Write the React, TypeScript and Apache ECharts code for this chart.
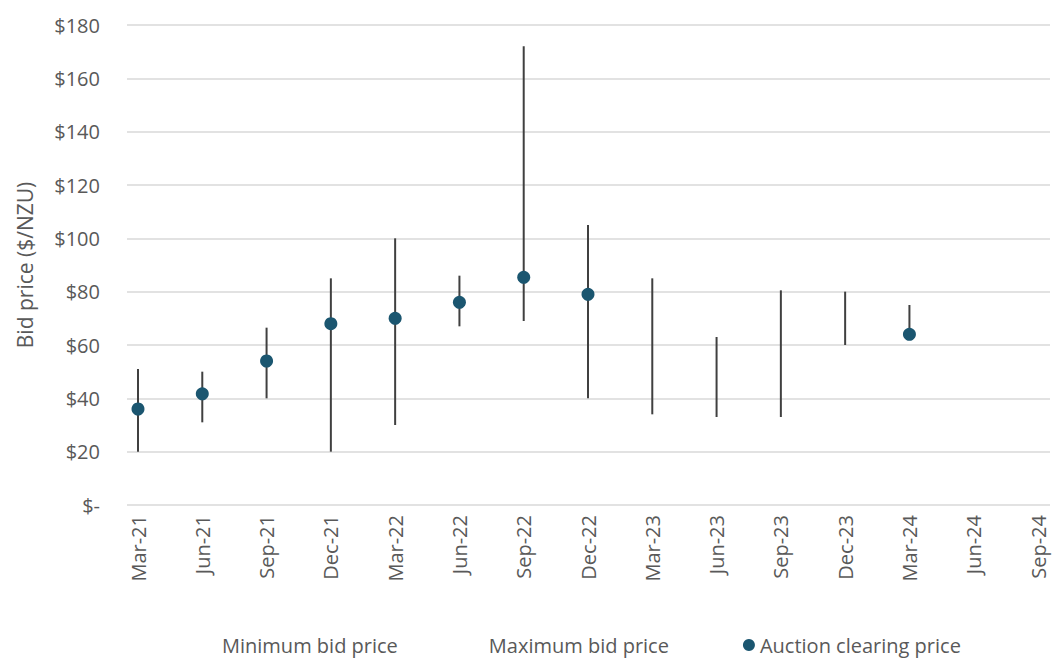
import React, { useEffect, useRef } from "react";
import * as echarts from "echarts";

const categories = ["Mar-21", "Jun-21", "Sep-21", "Dec-21", "Mar-22", "Jun-22", "Sep-22", "Dec-22", "Mar-23", "Jun-23", "Sep-23", "Dec-23", "Mar-24", "Jun-24", "Sep-24"];
const minBid = [20, 31, 40, 20, 30, 67, 69, 40, 34, 33, 33, 60, 64, null, null];
const maxBid = [51, 50, 66.5, 85, 100, 86, 172, 105, 85, 63, 80.5, 80, 75, null, null];
const clearing = [36, 41.7, 54, 68, 70, 76, 85.4, 79, null, null, null, null, 64, null, null];
const yTicks = [0, 20, 40, 60, 80, 100, 120, 140, 160, 180];

const FONT = "'Open Sans', sans-serif";
const TEXT = "#595959";

export default function App() {
  const ref = useRef<HTMLDivElement>(null);
  useEffect(() => {
    document.body.style.margin = "0";
    if (!ref.current) return;
    const chart = echarts.init(ref.current, undefined, { renderer: "svg" });
    const rangeData = categories.map((c, i) => [i, minBid[i], maxBid[i]]).filter((d) => d[1] != null && d[2] != null);
    chart.setOption({
      animation: false,
      textStyle: { fontFamily: FONT, color: TEXT },
      grid: [
        { left: 127, right: 2, top: 25, bottom: 156 },
        { left: 138, right: 14, top: 25, bottom: 156 },
      ],
      xAxis: [
        { gridIndex: 0, type: "value", min: 0, max: 1, show: false },
        {
          gridIndex: 1,
          type: "category",
          data: categories,
          boundaryGap: false,
          axisLine: { show: false },
          axisTick: { show: false },
          axisLabel: { rotate: 90, margin: 10, fontSize: 20, color: TEXT, fontFamily: FONT },
        },
      ],
      yAxis: [
        {
          gridIndex: 0,
          type: "value",
          min: yTicks[0],
          max: yTicks[yTicks.length - 1],
          interval: 20,
          name: "Bid price ($/NZU)",
          nameLocation: "middle",
          nameGap: 92,
          nameTextStyle: { fontSize: 21, color: TEXT, fontFamily: FONT },
          axisLine: { show: false },
          axisTick: { show: false },
          axisLabel: {
            fontSize: 20,
            margin: 27,
            color: TEXT,
            fontFamily: FONT,
            formatter: (v: number) => (v === 0 ? "$-" : "$" + v),
          },
          splitLine: { lineStyle: { color: "#d9d9d9", width: 1.5 } },
        },
        { gridIndex: 1, type: "value", min: 0, max: 180, show: false, splitLine: { show: false } },
      ],
      legend: {
        left: 200,
        top: 630,
        itemGap: 74,
        itemWidth: 12,
        itemHeight: 12,
        textStyle: { fontSize: 20, color: TEXT, fontFamily: FONT },
        data: [
          { name: "Minimum bid price", icon: "none" },
          { name: "Maximum bid price", icon: "none" },
          { name: "Auction clearing price", icon: "circle" },
        ],
      },
      series: [
        {
          name: "Minimum bid price",
          type: "line",
          xAxisIndex: 1,
          yAxisIndex: 1,
          data: minBid,
          showSymbol: false,
          lineStyle: { opacity: 0 },
          itemStyle: { color: "#ffffff" },
        },
        {
          name: "Maximum bid price",
          type: "line",
          xAxisIndex: 1,
          yAxisIndex: 1,
          data: maxBid,
          showSymbol: false,
          lineStyle: { opacity: 0 },
          itemStyle: { color: "#ffffff" },
        },
        {
          name: "range",
          type: "custom",
          xAxisIndex: 1,
          yAxisIndex: 1,
          data: rangeData,
          encode: { x: 0, y: [1, 2] },
          renderItem: (params: any, api: any) => {
            const lo = api.coord([api.value(0), api.value(1)]);
            const hi = api.coord([api.value(0), api.value(2)]);
            return {
              type: "line",
              shape: { x1: lo[0], y1: lo[1], x2: hi[0], y2: hi[1] },
              style: { stroke: "#404040", lineWidth: 2 },
            };
          },
          z: 2,
        },
        {
          name: "Auction clearing price",
          type: "scatter",
          xAxisIndex: 1,
          yAxisIndex: 1,
          data: clearing,
          symbol: "circle",
          symbolSize: 13,
          itemStyle: { color: "#1B5670", opacity: 1 },
          z: 3,
        },
      ],
    });
    return () => chart.dispose();
  }, []);
  return <div ref={ref} style={{ width: 1052, height: 661 }} />;
}
